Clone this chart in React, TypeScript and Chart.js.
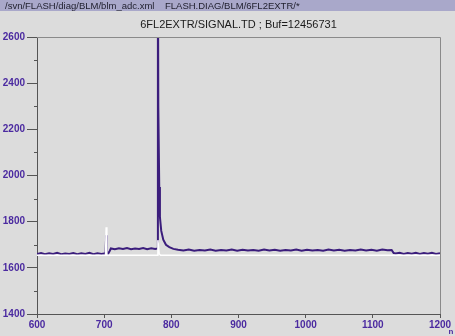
import React, { useEffect, useRef } from "react";
import { Chart, registerables } from "chart.js";

Chart.register(...registerables);

const headerText = "/svn/FLASH/diag/BLM/blm_adc.xml    FLASH.DIAG/BLM/6FL2EXTR/*";
const titleText = "6FL2EXTR/SIGNAL.TD ; Buf=12456731";
const xUnitLabel = "n";

const xMin = 600;
const xMax = 1200;
const yMin = 1400;
const yMax = 2600;

// purple signal trace
const signalX = [
  600, 606, 612, 618, 624, 630, 636, 642, 648, 654, 660, 666, 672, 678, 684, 690, 696, 700, 702,
  703, 704, 706, 708, 710, 716, 722, 728, 734, 740, 746, 752, 758, 764, 770, 776, 779,
  780, 780.6, 781, 782, 783, 785, 788, 792, 797, 803, 810, 818, 826, 834, 842, 850, 858, 866, 874,
  882, 890, 898, 906, 914, 922, 930, 938, 946, 954, 962, 970, 978, 986, 994, 1002, 1010,
  1018, 1026, 1034, 1042, 1050, 1058, 1066, 1074, 1082, 1090, 1098, 1106, 1114, 1122, 1128,
  1131, 1134, 1140, 1146, 1152, 1158, 1164, 1170, 1176, 1182, 1188, 1194, 1200,
];
const signalY = [
  1660, 1664, 1659, 1663, 1660, 1665, 1659, 1662, 1660, 1664, 1659, 1663, 1660, 1665, 1659, 1663, 1660, 1662, 1661,
  1741, 1661, 1662, 1672, 1684, 1681, 1685, 1682, 1686, 1681, 1684, 1682, 1686, 1681, 1685, 1682, 1684,
  3000, 2300, 2300, 1950, 1820, 1760, 1722, 1700, 1690, 1682, 1678, 1675, 1679, 1674, 1677, 1675, 1679, 1674, 1677,
  1675, 1679, 1674, 1678, 1675, 1677, 1674, 1679, 1675, 1678, 1674, 1677, 1675, 1679, 1674, 1678, 1675,
  1677, 1674, 1679, 1675, 1678, 1674, 1677, 1675, 1679, 1675, 1678, 1674, 1679, 1676, 1677,
  1664, 1662, 1665, 1660, 1664, 1661, 1665, 1660, 1664, 1661, 1665, 1660, 1663,
];

// white reference trace
const refX = [600, 700, 702, 703, 704, 706, 778, 779, 780, 781, 782, 784, 800, 1200];
const refY = [1654, 1654, 1654, 1776, 1654, 1654, 1654, 1654, 1720, 1690, 1660, 1654, 1654, 1654];

const BG = "#dcdcdc";
const HEADER_BG = "#a9a8ca";
const PURPLE = "#3b1d7c";
const LABEL = "#4b2aa0";
const AXIS = "#555555";
const FRAME = "#8a8a8a";

const toPoints = (xs: number[], ys: number[]) => xs.map((x, i) => ({ x, y: ys[i] }));

const decorPlugin = {
  id: "decor",
  beforeDraw(chart: any) {
    const { ctx, width, height } = chart;
    ctx.save();
    ctx.fillStyle = BG;
    ctx.fillRect(0, 0, width, height);
    ctx.fillStyle = HEADER_BG;
    ctx.fillRect(0, 0, width, 11);
    ctx.fillStyle = "#1e1e2c";
    ctx.font = "9.5px 'Liberation Sans', Arial, sans-serif";
    ctx.textBaseline = "middle";
    ctx.textAlign = "left";
    ctx.fillText(headerText, 5, 6);
    const area = chart.chartArea;
    ctx.fillStyle = "#1a1a1a";
    ctx.font = "11px 'Liberation Sans', Arial, sans-serif";
    ctx.textAlign = "center";
    ctx.fillText(titleText, (area.left + area.right) / 2, 25);
    ctx.restore();
  },
  afterDraw(chart: any) {
    const { ctx } = chart;
    const area = chart.chartArea;
    const y = chart.scales.y;
    ctx.save();
    ctx.strokeStyle = FRAME;
    ctx.lineWidth = 1;
    ctx.beginPath();
    ctx.moveTo(area.left, area.top + 0.5);
    ctx.lineTo(area.right + 0.5, area.top + 0.5);
    ctx.lineTo(area.right + 0.5, area.bottom);
    ctx.stroke();
    ctx.strokeStyle = AXIS;
    ctx.beginPath();
    for (let v = yMin + 100; v < yMax; v += 200) {
      const py = Math.round(y.getPixelForValue(v)) + 0.5;
      ctx.moveTo(area.left - 3, py);
      ctx.lineTo(area.left, py);
    }
    ctx.stroke();
    ctx.fillStyle = LABEL;
    ctx.font = "bold 8px 'Liberation Sans', Arial, sans-serif";
    ctx.textAlign = "center";
    ctx.textBaseline = "middle";
    ctx.fillText(xUnitLabel, area.right + 11, 332);
    ctx.restore();
  },
};

export default function App() {
  const ref = useRef<HTMLCanvasElement | null>(null);
  useEffect(() => {
    document.body.style.margin = "0";
    const canvas = ref.current;
    if (!canvas) return;
    const tickFont = { family: "'Liberation Sans', Arial, sans-serif", size: 10, weight: "bold" as const };
    const chart = new Chart(canvas, {
      type: "scatter",
      data: {
        datasets: [
          {
            data: toPoints(refX, refY),
            showLine: true,
            borderColor: "#ffffff",
            borderWidth: 1.5,
            pointRadius: 0,
          },
          {
            data: toPoints(signalX, signalY),
            showLine: true,
            borderColor: PURPLE,
            borderWidth: 2,
            pointRadius: 0,
          },
        ],
      },
      options: {
        animation: false,
        responsive: false,
        maintainAspectRatio: false,
        layout: { padding: { top: 37, right: 15, left: 0, bottom: 0 } },
        plugins: {
          legend: { display: false },
          tooltip: { enabled: false },
          title: { display: false },
        },
        scales: {
          x: {
            type: "linear",
            min: xMin,
            max: xMax,
            afterFit: (s: any) => {
              s.height = 22;
            },
            ticks: {
              stepSize: 100,
              color: LABEL,
              font: tickFont,
              padding: 1,
              maxRotation: 0,
              autoSkip: false,
              callback: (v: any) => String(v),
            },
            grid: { drawOnChartArea: false, tickLength: 4, color: AXIS },
            border: { color: AXIS, width: 1 },
          },
          y: {
            type: "linear",
            min: yMin,
            max: yMax,
            afterFit: (s: any) => {
              s.width = 37;
            },
            ticks: {
              stepSize: 200,
              color: LABEL,
              font: tickFont,
              padding: 2,
              autoSkip: false,
              callback: (v: any) => String(v),
            },
            grid: { drawOnChartArea: false, tickLength: 10, color: AXIS },
            border: { color: AXIS, width: 1 },
          },
        },
      },
      plugins: [decorPlugin],
    });
    return () => chart.destroy();
  }, []);
  return (
    <div style={{ width: 455, height: 336 }}>
      <canvas ref={ref} width={455} height={336} style={{ display: "block", width: 455, height: 336 }} />
    </div>
  );
}
